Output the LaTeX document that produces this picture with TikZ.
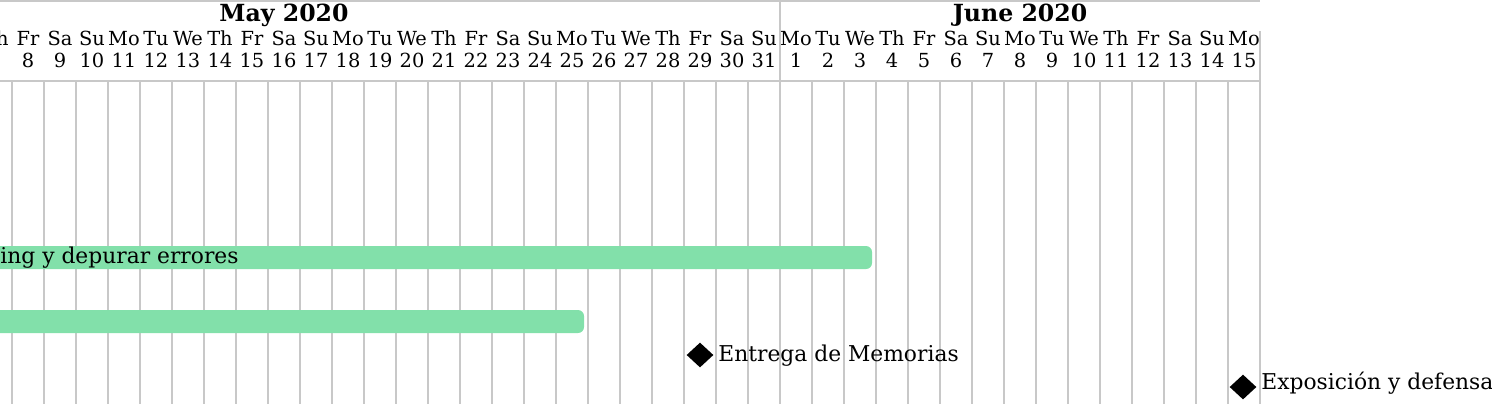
\documentclass[tikz,border=0pt]{standalone}
\usepackage{fontspec}
\setmainfont{DejaVu Serif}
\usetikzlibrary{shapes.geometric}
\definecolor{barcolor}{RGB}{130,224,170}
\definecolor{gridgray}{RGB}{200,200,200}
\tikzset{
  gridline/.style={gridgray, line width=1pt},
  taskbar/.style={fill=barcolor, rounded corners=3pt},
  milestone/.style={diamond, fill=black, inner sep=0pt, minimum width=13.5pt, minimum height=12.5pt},
  monthtitle/.style={font=\bfseries\fontsize{11.8}{13}\selectfont, anchor=base, inner sep=0pt},
  daylabel/.style={font=\fontsize{9.7}{11}\selectfont, anchor=base, inner sep=0pt},
  tasklabel/.style={font=\fontsize{10.9}{12}\selectfont, anchor=base west, inner sep=0pt}
}
\begin{document}
\begin{tikzpicture}[x=.5pt, y=-.5pt]
\useasboundingbox (0,0) rectangle (1492,404);
\clip (0,0) rectangle (1492,404);
% header
\draw[gridline](0,1)--(1260,1);
\draw[gridline](0,81)--(1260,81);
\draw[gridline](780,0)--(780,404);
\draw[gridline](1260,31)--(1260,404);
\node[monthtitle] (may) at (284,21) {May 2020};
\node[monthtitle] (june) at (1020,21) {June 2020};
\node[daylabel] (name0) at (-4,45) {Th};
\draw[gridline](12,81)--(12,404);
\foreach \i in {1,...,39}
{
    \pgfmathparse{{"Th","Fr","Sa","Su","Mo","Tu","We"}[mod(\i,7)]}
    \let\dname\pgfmathresult
    \pgfmathtruncatemacro\dnum{\i<25 ? \i+7 : \i-24}
    \node[daylabel] (name\i) at (-4+32*\i,45) {\dname};
    \node[daylabel] (num\i) at (-4+32*\i,67) {\dnum};
    \draw[gridline](12+32*\i,81)--(12+32*\i,404);
}
% bars
\fill[taskbar](-100,246) rectangle (872,269);
\fill[taskbar](-100,310) rectangle (584,333);
\node[tasklabel] (debug) at (0,263) {ing y depurar errores};
% milestones
\node[milestone] (entrega) at (700,355) {};
\node[tasklabel] (entregalabel) at (718,361) {Entrega de Memorias};
\node[milestone] (defensa) at (1243,387) {};
\node[tasklabel] (defensalabel) at (1261,389) {Exposición y defensa};
\end{tikzpicture}
\end{document}
